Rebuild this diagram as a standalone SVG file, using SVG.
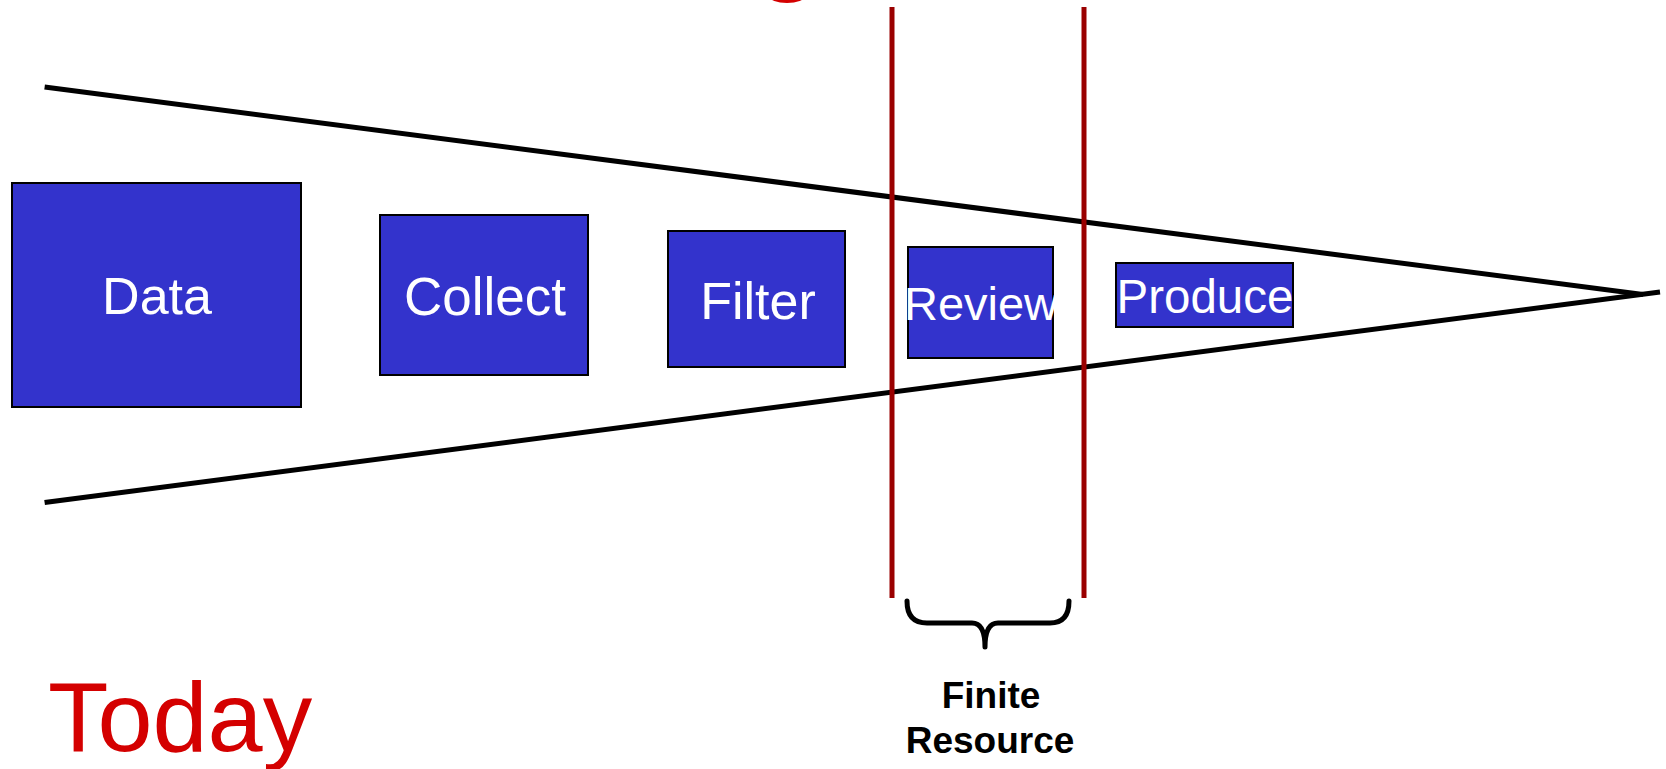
<svg xmlns="http://www.w3.org/2000/svg" width="1666" height="769" viewBox="0 0 1666 769">
<style>
.box{fill:#3333cc;stroke:#000;stroke-width:2}
.lbl{font-family:"Liberation Sans",Arial,sans-serif;fill:#fff;text-anchor:middle}
.funnel{stroke:#000;stroke-width:5;fill:none}
.redline{stroke:#9a0000;stroke-width:5}
.note{font-family:"Liberation Sans",Arial,sans-serif;font-weight:bold;font-size:37px;fill:#000;text-anchor:middle}
</style>
<rect width="1666" height="769" fill="#fff"/>
<ellipse cx="787" cy="-4" rx="18" ry="7" fill="#d40000"/>
<g id="connectors">
<line class="funnel" x1="44.6" y1="87" x2="1643" y2="294.5"/>
<line class="funnel" x1="44.6" y1="502.6" x2="1660" y2="292"/>
</g>
<g id="node-data"><rect class="box" x="12" y="183" width="289" height="224"/><text class="lbl" x="157" y="314" font-size="52">Data</text></g>
<g id="node-collect"><rect class="box" x="380" y="215" width="208" height="160"/><text class="lbl" x="485" y="315" font-size="53">Collect</text></g>
<g id="node-filter"><rect class="box" x="668" y="231" width="177" height="136"/><text class="lbl" x="758" y="319" font-size="52">Filter</text></g>
<g id="node-review"><rect class="box" x="908" y="247" width="145" height="111"/><text class="lbl" x="981" y="320" font-size="47">Review</text></g>
<g id="node-produce"><rect class="box" x="1116" y="263" width="177" height="64"/><text class="lbl" x="1205" y="313" font-size="47.5">Produce</text></g>
<g id="limits">
<line class="redline" x1="892" y1="7" x2="892" y2="598"/>
<line class="redline" x1="1084" y1="7" x2="1084" y2="598"/>
</g>
<g id="brace">
<path d="M907 601 Q907 623 927 623 H972 Q985 623 985 647 Q985 623 998 623 H1050 Q1069 623 1069 601" fill="none" stroke="#000" stroke-width="5" stroke-linecap="round" stroke-linejoin="round"/>
<text class="note" x="991" y="708">Finite</text>
<text class="note" x="990" y="753">Resource</text>
</g>
<text x="48" y="751" font-family="'Liberation Sans',Arial,sans-serif" font-size="99" fill="#d40000">Today</text>
</svg>
